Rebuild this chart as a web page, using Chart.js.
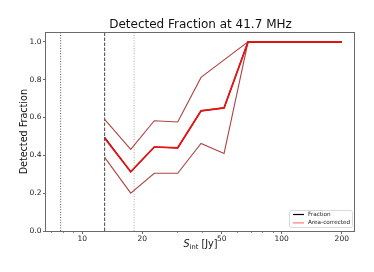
<!DOCTYPE html>
<html><head><meta charset="utf-8">
<script src="https://cdn.jsdelivr.net/npm/chart.js@4.4.1/dist/chart.umd.min.js"></script>
<style>html,body{margin:0;padding:0;background:#fff}</style>
</head><body>
<canvas id="c" width="374" height="272"></canvas>
<script>
const fluxBins = [12.95, 17.5, 22.96, 30.1, 39.4, 51.4, 67.8, 200];
const fraction = [0.495, 0.313, 0.444, 0.44, 0.635, 0.651, 1.0, 1.0];
const areaCorrected = [0.49, 0.313, 0.444, 0.44, 0.635, 0.651, 1.0, 1.0];
const upperBound = [0.59, 0.432, 0.583, 0.576, 0.812, 0.905, 1.0, 1.0];
const lowerBound = [0.389, 0.2, 0.305, 0.305, 0.463, 0.41, 1.0, 1.0];
const vLines = [7.79, 12.95, 18.2];
const xTicks = [10, 20, 50, 100, 200];
const xMinorTicks = [7, 8, 9, 30, 40, 60, 70, 80, 90];
const yTicks = [0, 0.2, 0.4, 0.6, 0.8, 1.0];
const xRange = [6.58, 233];
const yRange = [0, 1.05];
const legendLabels = ['Fraction', 'Area-corrected'];

const FONT = 'DejaVu Sans';
const pts = (xs, ys) => xs.map((x, i) => ({x: x, y: ys[i]}));
const vline = v => [{x: v, y: yRange[0]}, {x: v, y: yRange[1]}];

const vStyles = [
  {color: '#555', dash: [1, 1.6]},
  {color: '#444', dash: [3.5, 1.5]},
  {color: '#aaa', dash: [1, 1.6]}
];

const datasets = [
  {data: pts(fluxBins, areaCorrected), borderColor: '#f01010', borderWidth: 1.7, order: 0},
  {data: pts(fluxBins, fraction), borderColor: '#000', borderWidth: 1.2, order: 1},
  {data: pts(fluxBins, upperBound), borderColor: '#b04444', borderWidth: 1.1, order: 2},
  {data: pts(fluxBins, lowerBound), borderColor: '#b04444', borderWidth: 1.1, order: 2}
].concat(vLines.map((v, i) => ({
  data: vline(v), borderColor: vStyles[i].color, borderWidth: 1, borderDash: vStyles[i].dash, order: 3
})));
datasets.forEach(d => { d.pointRadius = 0; d.tension = 0; d.fill = false; });

const decor = {
  id: 'decor',
  afterDatasetsDraw(chart) {
    const {ctx, chartArea: a, scales: {x}} = chart;
    ctx.save();
    ctx.strokeStyle = '#555'; ctx.lineWidth = 0.7;
    xMinorTicks.forEach(v => {
      const px = Math.round(x.getPixelForValue(v)) + 0.5;
      ctx.beginPath(); ctx.moveTo(px, a.bottom); ctx.lineTo(px, a.bottom + 2); ctx.stroke();
    });
    ctx.strokeStyle = '#6a6a6a'; ctx.lineWidth = 1;
    ctx.strokeRect(Math.round(a.left) - 0.5, Math.round(a.top) + 0.5,
                   Math.round(a.right - a.left) + 0.0, Math.round(a.bottom - a.top) - 0.0);
    ctx.restore();
  },
  afterDraw(chart) {
    const {ctx, chartArea: a} = chart;
    ctx.save();
    ctx.fillStyle = '#111';
    ctx.font = '9.6px "' + FONT + '"';
    ctx.textAlign = 'center'; ctx.textBaseline = 'middle';
    ctx.translate(24, (a.top + a.bottom) / 2);
    ctx.rotate(-Math.PI / 2);
    ctx.fillText('Detected Fraction', 0, 0);
    ctx.restore();

    ctx.save();
    ctx.fillStyle = '#111';
    ctx.textBaseline = 'alphabetic'; ctx.textAlign = 'left';
    const fMain = '9.6px "' + FONT + '"', fIt = 'italic 9.6px "' + FONT + '"', fSub = '6.7px "' + FONT + '"';
    ctx.font = fIt; const w1 = ctx.measureText('S').width;
    ctx.font = fSub; const w2 = ctx.measureText('int').width;
    ctx.font = fMain; const w3 = ctx.measureText(' [Jy]').width;
    const cx = (a.left + a.right) / 2;
    let xx = cx - (w1 + w2 + w3) / 2;
    const by = 247;
    ctx.font = fIt; ctx.fillText('S', xx, by); xx += w1;
    ctx.font = fSub; ctx.fillText('int', xx, by + 2); xx += w2;
    ctx.font = fMain; ctx.fillText(' [Jy]', xx, by);
    ctx.restore();

    ctx.save();
    const bw = 63, bh = 17;
    const bx = a.right - 3 - bw, byy = a.bottom - 4 - bh;
    ctx.fillStyle = 'rgba(255,255,255,0.85)';
    ctx.strokeStyle = '#cfcfcf'; ctx.lineWidth = 0.8;
    ctx.beginPath();
    if (ctx.roundRect) ctx.roundRect(bx + 0.5, byy + 0.5, bw, bh, 2); else ctx.rect(bx + 0.5, byy + 0.5, bw, bh);
    ctx.fill(); ctx.stroke();
    const rows = [{c: '#000'}, {c: '#ff7a7a'}];
    ctx.font = '5.7px "' + FONT + '"';
    ctx.textBaseline = 'middle'; ctx.textAlign = 'left';
    legendLabels.forEach((lab, i) => {
      const ly = byy + 4.5 + i * 8.4;
      ctx.strokeStyle = rows[i].c; ctx.lineWidth = 1.2;
      ctx.beginPath(); ctx.moveTo(bx + 4, ly); ctx.lineTo(bx + 15, ly); ctx.stroke();
      ctx.fillStyle = '#222';
      ctx.fillText(lab, bx + 19, ly);
    });
    ctx.restore();
  }
};

new Chart(document.getElementById('c'), {
  type: 'line',
  data: {datasets: datasets},
  options: {
    responsive: false,
    animation: false,
    events: [],
    layout: {padding: {left: 0, right: 19, top: 0, bottom: 0}},
    plugins: {
      legend: {display: false},
      tooltip: {enabled: false},
      title: {
        display: true, text: 'Detected Fraction at 41.7 MHz', fullSize: false,
        color: '#111', font: {family: FONT, size: 12, weight: 'normal', lineHeight: 1.2},
        padding: {top: 18, bottom: 0}
      }
    },
    scales: {
      x: {
        type: 'logarithmic', min: xRange[0], max: xRange[1],
        afterBuildTicks: s => { s.ticks = xTicks.map(v => ({value: v})); },
        afterFit: s => { s.height = 41; },
        grid: {display: true, drawOnChartArea: false, drawTicks: true, tickLength: 3, color: '#444', lineWidth: 0.8},
        border: {display: false},
        ticks: {autoSkip: false, maxRotation: 0, padding: 1, color: '#222',
                font: {family: FONT, size: 7.5}, callback: v => String(v)}
      },
      y: {
        type: 'linear', min: yRange[0], max: yRange[1],
        afterBuildTicks: s => { s.ticks = yTicks.map(v => ({value: v})); },
        afterFit: s => { s.width = 46; },
        grid: {display: true, drawOnChartArea: false, drawTicks: true, tickLength: 3, color: '#444', lineWidth: 0.8},
        border: {display: false},
        ticks: {padding: 1.5, color: '#222', font: {family: FONT, size: 7.5}, callback: v => v.toFixed(1)}
      }
    }
  },
  plugins: [decor]
});
</script>
</body></html>
